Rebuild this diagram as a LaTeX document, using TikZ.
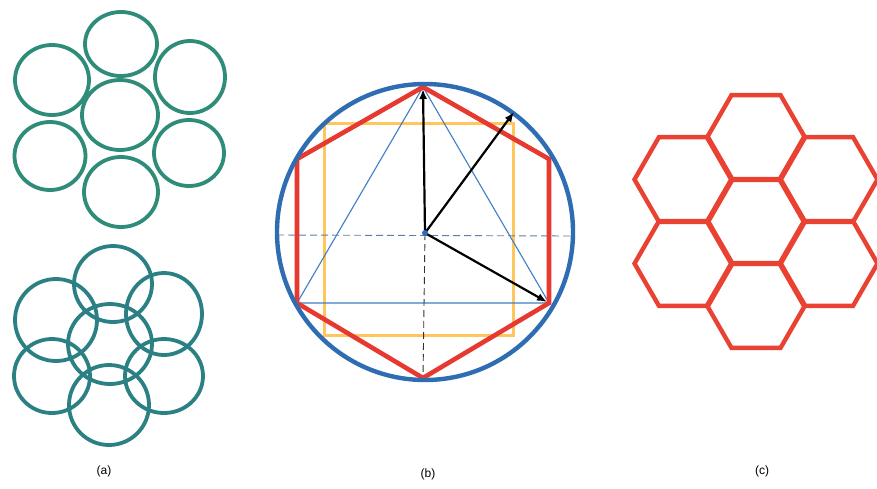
\documentclass[tikz,border=0pt]{standalone}
\usepackage{fontspec}
\setmainfont{Liberation Sans}
\usepackage{tikz}
\usetikzlibrary{arrows.meta,calc}
\definecolor{PKTeal}{HTML}{2E8C78}
\definecolor{PKTealDeep}{HTML}{2B8083}
\definecolor{PKBlue}{HTML}{2F6DB3}
\definecolor{PKSky}{HTML}{3F80C4}
\definecolor{PKRed}{HTML}{E63A31}
\definecolor{PKOrange}{HTML}{FFC65E}
\definecolor{PKCell}{HTML}{EA4232}
\definecolor{PKGuide}{HTML}{5F7FA6}

\begin{document}
\begin{tikzpicture}[
      x=1pt,y=-1pt,
      >={Latex[length=10pt,width=8pt]},
      ring/.style={line width=3.8pt,draw=PKTeal},
      ringb/.style={line width=3.8pt,draw=PKTealDeep},
      rim/.style={line width=4.4pt,draw=PKBlue},
      hexside/.style={line width=4.6pt,draw=PKRed,line join=miter},
      frame/.style={line width=2.6pt,draw=PKOrange},
      tri/.style={line width=1.1pt,draw=PKSky},
      guide/.style={dash pattern=on 7pt off 4pt,line width=0.9pt,draw=PKGuide},
      vec/.style={->,line width=2.2pt,draw=black},
      hexcell/.style={line width=4.4pt,draw=PKCell,line join=miter},
      tag/.style={font=\fontsize{12}{14}\selectfont,inner sep=1pt}
    ]
    \path[use as bounding box,fill=white] (0,0) rectangle (877,488);

    % (a) packed rings, touching
    \foreach \cx/\cy/\rx/\ry in {121/44/36/32, 120/115/38/35, 52/80/37/35, 190/77/35/36,
                                 50/156/35.5/34, 189/153/35/33, 121/192/37/35}
      \draw[ring] (\cx,\cy) ellipse [x radius=\rx, y radius=\ry];

    % (a) overlapping rings
    \foreach \cx/\cy/\rx/\ry in {113/284/39/38, 56/320/41/41, 164/314/38/41, 110/344/42/40,
                                 52/376/38/37, 164/376/39/37, 109/405/40/40}
      \draw[ringb] (\cx,\cy) ellipse [x radius=\rx, y radius=\ry];

    % (b) circle with inscribed figures
    \coordinate (O) at (425,233);
    \coordinate (hT) at (423,87);
    \coordinate (hUR) at (549,159);
    \coordinate (hLR) at (549,303);
    \coordinate (hB) at (423,378);
    \coordinate (hLL) at (297,303);
    \coordinate (hUL) at (297,159);
    \coordinate (tip) at (514,112);
    \coordinate (gW) at (277,235);
    \coordinate (gE) at (573,236);

    \draw[frame] (324.5,123.5) rectangle (513.5,335.5);
    \draw[tri] (hT) -- (hLL) -- (hLR) -- cycle;
    \draw[guide] (gW) -- (gE);
    \draw[guide,draw=black!80] (O) -- (hB);
    \draw[hexside] (hT) -- (hUR) -- (hLR) -- (hB) -- (hLL) -- (hUL) -- cycle;
    \draw[rim] (425,232) circle [radius=148];
    \draw[vec] (O) -- ($(hT)+(0,2)$);
    \draw[vec] (O) -- (tip);
    \draw[vec] (O) -- ($(hLR)+(-2,-1)$);
    \fill[PKBlue] (O) circle [radius=3];

    % (c) honeycomb
    \foreach \cx/\cy in {756/221.5, 756/137.5, 756/305.5, 683.5/179.5,
                         828.5/179.5, 683.5/263.5, 828.5/263.5}
      \draw[hexcell] (\cx,\cy) ++(0:49) -- ++(120:49) -- ++(180:49) -- ++(240:49)
        -- ++(300:49) -- ++(0:49) -- cycle;

    \node[tag] (la) at (104,471) {(a)};
    \node[tag] (lb) at (428,474) {(b)};
    \node[tag] (lc) at (762,471) {(c)};
  \end{tikzpicture}
\end{document}
